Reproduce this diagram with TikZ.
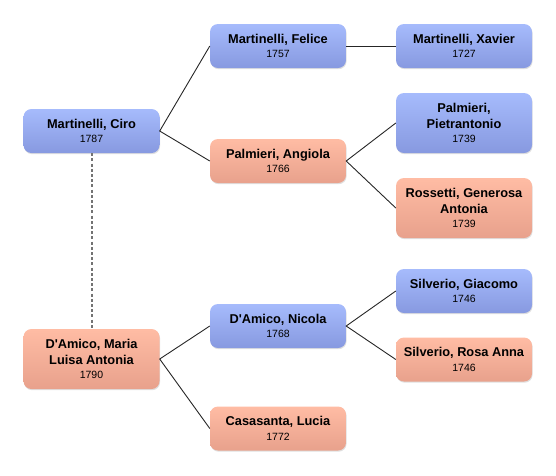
\documentclass[tikz,border=0pt]{standalone}
\usepackage{fontspec}
\setmainfont{Liberation Sans}[Ligatures=TeXOff]
\usetikzlibrary{shadows}
\definecolor{bluetop}{HTML}{A6BBFC}
\definecolor{bluebot}{HTML}{8799E0}
\definecolor{redtop}{HTML}{FFBCA4}
\definecolor{redbot}{HTML}{E8A18C}
\newcommand{\yr}[1]{\fontsize{10.5}{12}\selectfont\mdseries #1}
\tikzset{
  person/.style={rounded corners=8pt, minimum width=136pt, inner sep=0pt, align=center,
    font=\fontsize{12.8}{15.5}\selectfont\bfseries,
    drop shadow={shadow xshift=0.6pt, shadow yshift=-1.2pt, opacity=0.25}},
  male/.style={person, top color=bluetop, bottom color=bluebot},
  female/.style={person, top color=redtop, bottom color=redbot},
  short/.style={minimum height=44pt},
  tall/.style={minimum height=60pt},
  link/.style={draw=black!85, line width=0.9pt},
  spouse/.style={draw=black!55, line width=2pt, dash pattern=on 3pt off 2.2pt}
}
\begin{document}
\begin{tikzpicture}[x=1pt,y=-1pt]
\useasboundingbox (0,0) rectangle (556,475);
\node[male,short] (ciro) at (91.5,131) {Martinelli, Ciro\\[-1pt]\yr{1787}};
\node[female,tall] (maria) at (91.5,359) {D'Amico, Maria\\Luisa Antonia\\[-1pt]\yr{1790}};
\node[male,short] (felice) at (278,46) {Martinelli, Felice\\[-1pt]\yr{1757}};
\node[female,short] (angiola) at (278,161) {Palmieri, Angiola\\[-1pt]\yr{1766}};
\node[male,short] (nicola) at (278,326) {D'Amico, Nicola\\[-1pt]\yr{1768}};
\node[female,short] (lucia) at (278,428.5) {Casasanta, Lucia\\[-1pt]\yr{1772}};
\node[male,short] (xavier) at (464,46) {Martinelli, Xavier\\[-1pt]\yr{1727}};
\node[male,tall] (pietr) at (464,123) {Palmieri,\\Pietrantonio\\[-1pt]\yr{1739}};
\node[female,tall] (generosa) at (464,208) {Rossetti, Generosa\\Antonia\\[-1pt]\yr{1739}};
\node[male,short] (giacomo) at (464,291) {Silverio, Giacomo\\[-1pt]\yr{1746}};
\node[female,short] (rosa) at (464,359.5) {Silverio, Rosa Anna\\[-1pt]\yr{1746}};
\draw[spouse] (ciro.south) -- (maria.north);
\draw[link] (felice.west) -- (ciro.east) -- (angiola.west);
\draw[link] (felice.east) -- (xavier.west);
\draw[link] (pietr.west) -- (angiola.east) -- (generosa.west);
\draw[link] (nicola.west) -- (maria.east) -- (lucia.west);
\draw[link] (giacomo.west) -- (nicola.east) -- (rosa.west);
\end{tikzpicture}
\end{document}
